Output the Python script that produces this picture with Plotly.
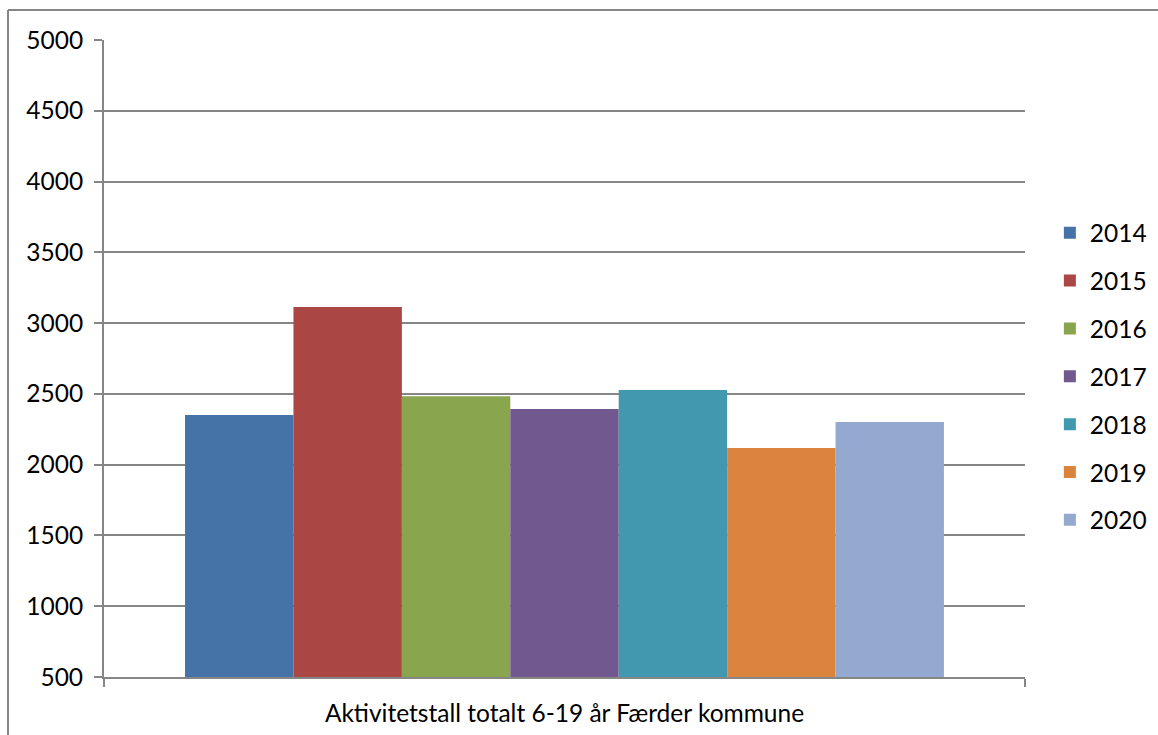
import plotly.graph_objects as go

# Activity counts, ages 6-19, Færder municipality
category = "Aktivitetstall totalt 6-19 år Færder kommune"
years = ["2014", "2015", "2016", "2017", "2018", "2019", "2020"]
values = [2350, 3113, 2484, 2393, 2527, 2117, 2301]
colors = ["#4572A7", "#AA4643", "#89A54E", "#71588F", "#4198AF", "#DB843D", "#93A9CF"]
y_ticks = [500, 1000, 1500, 2000, 2500, 3000, 3500, 4000, 4500, 5000]

FONT = "Lato"
FS = 24.5
GRID = "#868686"

fig = go.Figure()
for yr, v, c in zip(years, values, colors):
    fig.add_trace(go.Bar(
        x=[category], y=[v], name=yr,
        marker=dict(color=c, line=dict(width=0)),
        legendgroup=yr,
    ))

fig.update_layout(
    width=1158, height=735,
    margin=dict(l=104, r=133, t=40, b=58, autoexpand=False),
    paper_bgcolor="white", plot_bgcolor="white",
    barmode="group", bargap=0.176, bargroupgap=0,
    font=dict(family=FONT, size=FS, color="#000000"),
    showlegend=True,
    legend=dict(
        x=1.027, xanchor="left", y=0.472, yanchor="middle",
        font=dict(family=FONT, size=FS),
        tracegroupgap=13, itemwidth=30,
        bgcolor="rgba(0,0,0,0)",
    ),
    xaxis=dict(
        type="category", tickson="boundaries", ticks="outside", ticklen=8,
        tickwidth=2, tickcolor=GRID, showline=True, linecolor=GRID, linewidth=2,
        showgrid=False, tickfont=dict(family=FONT, size=FS), ticklabelstandoff=14,
    ),
    yaxis=dict(
        range=[500, 5000], tickvals=y_ticks, ticks="outside", ticklen=8,
        tickwidth=2, tickcolor=GRID, showline=True, linecolor=GRID, linewidth=2,
        showgrid=True, gridcolor=GRID, gridwidth=2, zeroline=False,
        tickfont=dict(family=FONT, size=FS), ticklabelstandoff=6,
    ),
    shapes=[
        # chart frame (top and left edges)
        dict(type="line", xref="paper", yref="paper",
             x0=(8 - 104) / 921, x1=(1160 - 104) / 921,
             y0=(677 - 10) / 637, y1=(677 - 10) / 637,
             line=dict(color=GRID, width=2)),
        dict(type="line", xref="paper", yref="paper",
             x0=(8 - 104) / 921, x1=(8 - 104) / 921,
             y0=(677 - 10) / 637, y1=(677 - 740) / 637,
             line=dict(color=GRID, width=2)),
    ],
)

fig.write_html("out.html")
